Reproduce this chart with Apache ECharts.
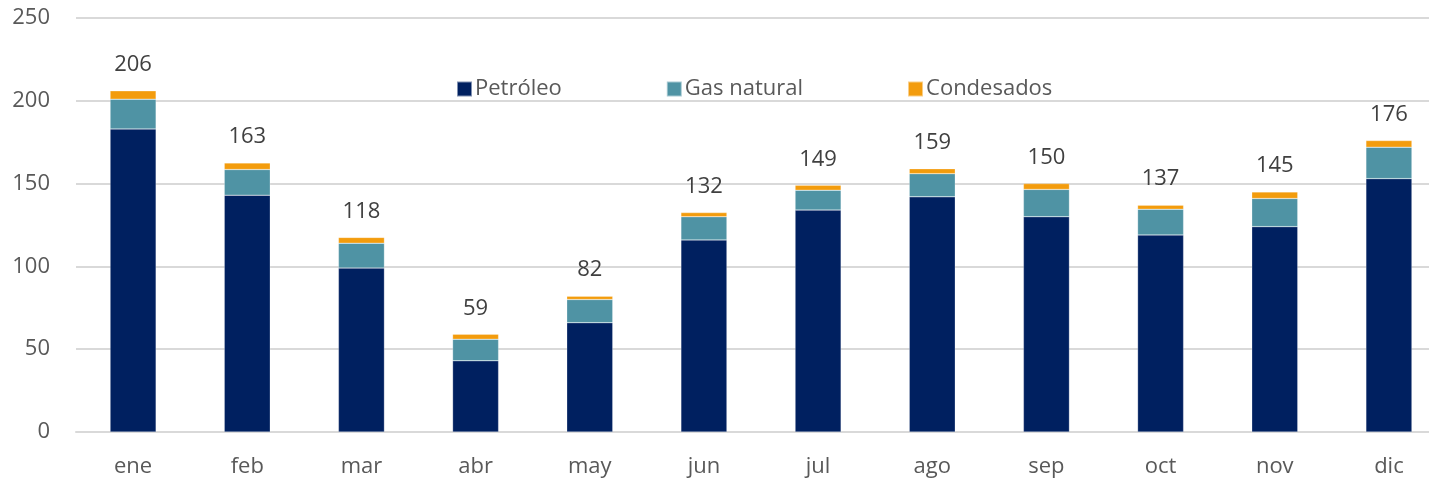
<!DOCTYPE html>
<html>
<head>
<meta charset="utf-8">
<style>
  html, body { margin: 0; padding: 0; background: #fff; overflow: hidden; }
  /* plot runs past the right edge of the picture, as in the original */
  #chart { width: 1446px; height: 480px; }
</style>
<script src="https://cdn.jsdelivr.net/npm/echarts@6.0.0/dist/echarts.min.js"></script>
</head>
<body>
<div id="chart"></div>
<script>
// monthly values
const months = ['ene', 'feb', 'mar', 'abr', 'may', 'jun', 'jul', 'ago', 'sep', 'oct', 'nov', 'dic']
const petroleo = [183, 143, 99, 43, 66, 116, 134, 142, 130, 119, 124, 153]
const gasNatural = [18, 15.5, 15, 13, 14, 14, 12, 14, 16.5, 15.5, 17, 19]
const condensados = [5, 4, 3.5, 3, 2, 2.5, 3, 3, 3.5, 2.5, 4, 4]
const totals = [206, 163, 118, 59, 82, 132, 149, 159, 150, 137, 145, 176]

const font = '"Open Sans", "Noto Sans", sans-serif'
const textColor = '#595959'
const gridColor = '#d9d9d9'

const chart = echarts.init(document.getElementById('chart'), null, { renderer: 'canvas' })

const bar = (name, data, color) => ({
  name, type: 'bar', stack: 'total', data, barWidth: 46,
  itemStyle: { color, borderColor: 'rgba(255,255,255,0.5)', borderWidth: 0.5 },
})

chart.setOption({
  animation: false,
  textStyle: { fontFamily: font },
  grid: { left: 76, right: 0, top: 18, bottom: 48 },
  legend: {
    left: 451, top: 73,
    itemWidth: 15, itemHeight: 15, itemGap: 104,
    icon: 'rect',
    textStyle: { color: textColor, fontSize: 22, fontFamily: font, padding: [0, 0, 0, -2] },
    data: ['Petróleo', 'Gas natural', 'Condesados'],
  },
  xAxis: {
    type: 'category', data: months,
    axisLine: { lineStyle: { color: gridColor, width: 2 } },
    axisTick: { show: false },
    axisLabel: { color: textColor, fontSize: 22, margin: 24 },
  },
  yAxis: {
    type: 'value', min: 0, max: 250, interval: 50,
    axisLine: { show: false }, axisTick: { show: false },
    axisLabel: { color: textColor, fontSize: 22, margin: 26 },
    splitLine: { lineStyle: { color: gridColor, width: 2 } },
  },
  series: [
    bar('Petróleo', petroleo, '#002060'),
    bar('Gas natural', gasNatural, '#4f93a4'),
    {
      ...bar('Condesados', condensados, '#f39c0d'),
      label: {
        show: true, position: 'top', distance: 15,
        color: '#404040', fontSize: 22, fontFamily: font,
        formatter: p => totals[p.dataIndex],
      },
    },
  ],
})
</script>
</body>
</html>
